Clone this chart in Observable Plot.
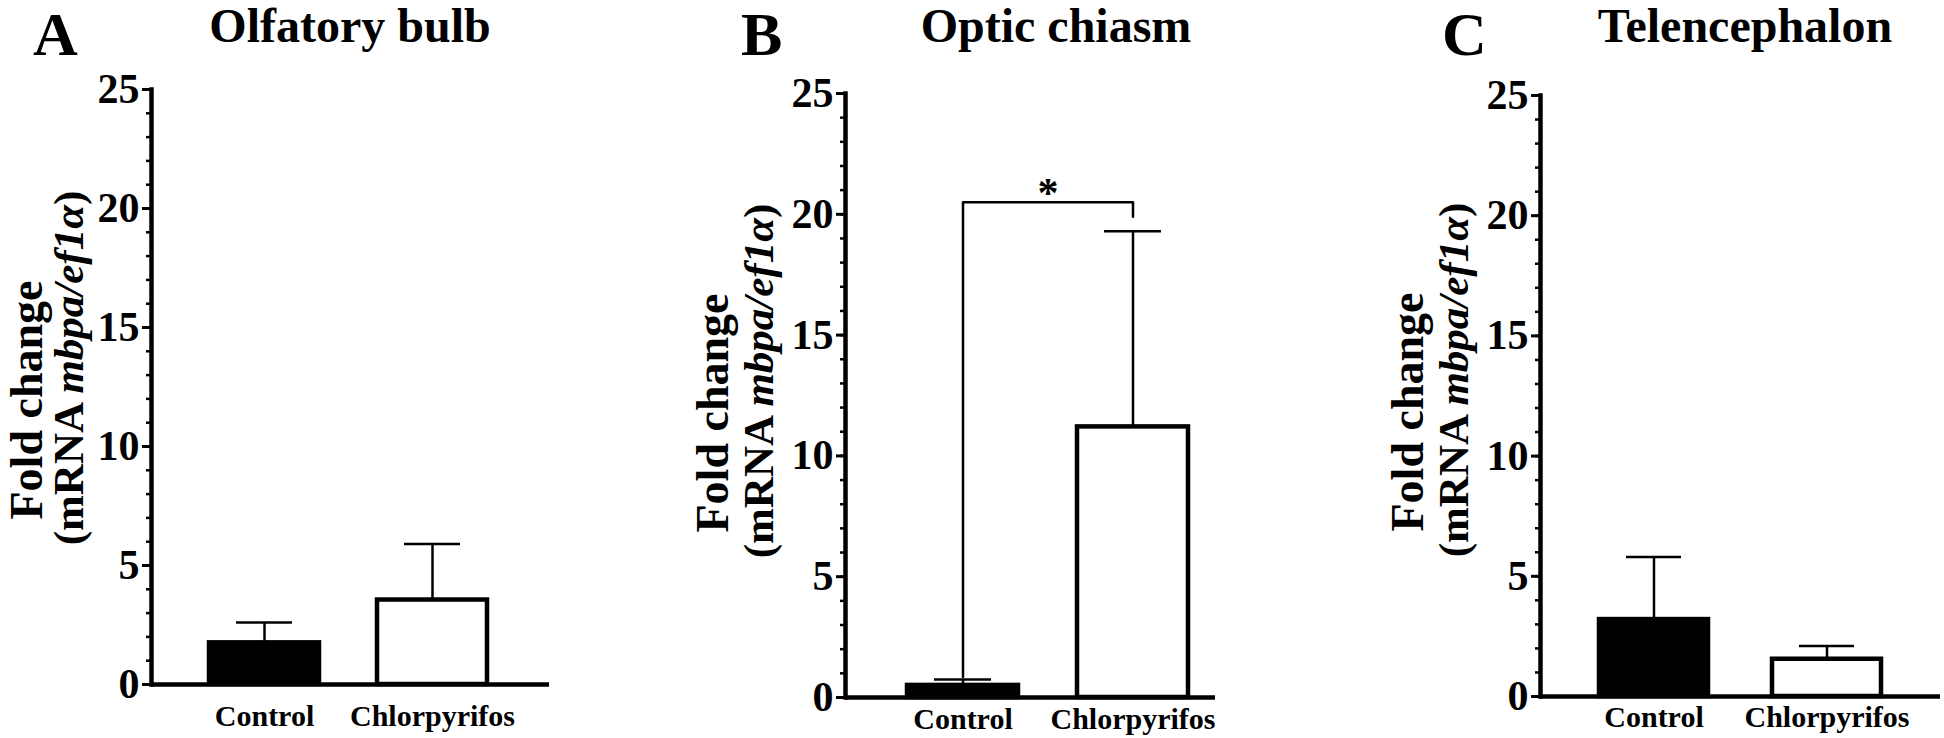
<!DOCTYPE html>
<html><head><meta charset="utf-8">
<script src="https://cdn.jsdelivr.net/npm/d3@7"></script>
<script src="https://cdn.jsdelivr.net/npm/@observablehq/plot@0.6"></script>
<style>
body{margin:0;background:#fff;}
#root{position:relative;width:1944px;height:738px;overflow:hidden;font-family:"Liberation Serif","Times New Roman",serif;font-weight:bold;color:#000;background:#fff;}
.lbl{position:absolute;white-space:nowrap;line-height:1.1;}
.plot{position:absolute;}
</style></head><body><div id="root"></div>
<script>
// ---- data ----
const groups = ["Control", "Chlorpyrifos"];
const panelLetters = ["A", "B", "C"];
const panelTitles = ["Olfatory bulb", "Optic chiasm", "Telencephalon"];
const olfactoryMean = [1.75, 3.55];
const olfactoryUpper = [2.6, 5.9];
const chiasmMean = [0.5, 11.2];
const chiasmUpper = [0.75, 19.3];
const telenMean = [3.2, 1.55];
const telenUpper = [5.8, 2.1];
const yTicks = [0, 5, 10, 15, 20, 25];
const yMinorTicks = d3.range(0, 26);
const yLabelLine1 = "Fold change";
const yLabelPlain = "(mRNA ";
const yLabelItalic = "mbpa/ef1α";
const yLabelClose = ")";
const sigBracket = [
  {g: "Control", v: 0.85}, {g: "Control", v: 20.5},
  {g: "Chlorpyrifos", v: 20.5}, {g: "Chlorpyrifos", v: 19.9}
];
const sigStar = [{g: "Control", v: 20.5, t: "*"}];

// ---- layout (pixels) ----
const layouts = [
  {axisX: 151, y25: 89, y0: 684, xEnd: 549, pi: 0.345, po: 0.357, align: 0.48, tp: 20, letterX: 33, titleX: 350, lab1: 8, lab2: 4},
  {axisX: 845, y25: 93, y0: 697, xEnd: 1215, pi: 0.347, po: 0.26, align: 0.7, tp: 10, letterX: 741, titleX: 1056, lab1: 0, lab2: 0},
  {axisX: 1540, y25: 95, y0: 696, xEnd: 1940, pi: 0.37, po: 0.335, align: 0.5, tp: 9, letterX: 1442, titleX: 1745, lab1: 0, lab2: 0}
];
const series = [[olfactoryMean, olfactoryUpper], [chiasmMean, chiasmUpper], [telenMean, telenUpper]];
const FONT = '"Liberation Serif","Times New Roman",serif';
const root = document.getElementById("root");

layouts.forEach((L, i) => {
  const [means, uppers] = series[i];
  const data = groups.map((g, j) => ({g, m: means[j], u: uppers[j]}));
  const mL = 150, mT = 30, mR = 4, mB = 40;
  const marks = [
    Plot.axisY({ticks: yMinorTicks, tickFormat: () => "", tickSize: 5, strokeWidth: 2.5, label: null}),
    Plot.axisY({ticks: yTicks, tickSize: 9, tickPadding: 3, fontSize: 42, strokeWidth: 3, label: null}),
    Plot.axisX({tickSize: 0, tickPadding: L.tp, fontSize: 30, label: null}),
    Plot.barY(data, {x: "g", y: "m", fill: "g", stroke: "black", strokeWidth: 4.5}),
    Plot.ruleX(data, {x: "g", y1: "m", y2: "u", strokeWidth: 2.5}),
    Plot.tickY(data, {x: "g", y: "u", strokeWidth: 2.5, insetLeft: 27, insetRight: 27}),
    Plot.ruleY([0], {strokeWidth: 4.5}),
    Plot.frame({anchor: "left", strokeWidth: 4.5})
  ];
  if (i === 1) {
    marks.push(Plot.line(sigBracket, {x: "g", y: "v", strokeWidth: 2.5}));
    marks.push(Plot.text(sigStar, {x: "g", y: "v", text: "t", dx: 85, dy: -9, fontSize: 42, fontWeight: "bold"}));
  }
  const plot = Plot.plot({
    width: mL + (L.xEnd - L.axisX) + mR,
    height: mT + (L.y0 - L.y25) + mB,
    marginLeft: mL, marginTop: mT, marginRight: mR, marginBottom: mB,
    style: {fontFamily: FONT, background: "transparent", overflow: "visible", color: "black"},
    x: {domain: groups, paddingInner: L.pi, paddingOuter: L.po, align: L.align, label: null},
    y: {domain: [0, 25], label: null},
    color: {domain: groups, range: ["black", "white"]},
    marks
  });
  const svg = d3.select(plot);
  svg.style("font-weight", "bold").attr("class", "plot")
     .style("left", (L.axisX - mL) + "px").style("top", (L.y25 - mT) + "px");
  const offY = L.y25 - mT;
  const offX = L.axisX - mL;
  svg.append("text")
    .attr("transform", `translate(${L.axisX - 117 + L.lab1 - offX},${L.y0 - 284 - offY}) rotate(-90)`)
    .attr("text-anchor", "middle").attr("font-size", 46).attr("font-weight", "bold")
    .attr("font-family", FONT).attr("fill", "black")
    .text(yLabelLine1);
  const t2 = svg.append("text")
    .attr("transform", `translate(${L.axisX - 72 + L.lab2 - offX},${L.y0 - 316 - offY}) rotate(-90)`)
    .attr("text-anchor", "middle").attr("font-size", 43).attr("font-weight", "bold")
    .attr("font-family", FONT).attr("fill", "black");
  t2.append("tspan").text(yLabelPlain);
  t2.append("tspan").attr("font-style", "italic").text(yLabelItalic);
  t2.append("tspan").text(yLabelClose);
  root.appendChild(plot);

  const letter = document.createElement("div");
  letter.className = "lbl";
  letter.style.fontSize = "62px";
  letter.style.left = L.letterX + "px";
  letter.style.top = "0px";
  letter.textContent = panelLetters[i];
  root.appendChild(letter);

  const title = document.createElement("div");
  title.className = "lbl";
  title.style.fontSize = "48px";
  title.style.left = L.titleX + "px";
  title.style.top = "0px";
  title.style.transform = "translateX(-50%)";
  title.textContent = panelTitles[i];
  root.appendChild(title);
});
</script></body></html>
